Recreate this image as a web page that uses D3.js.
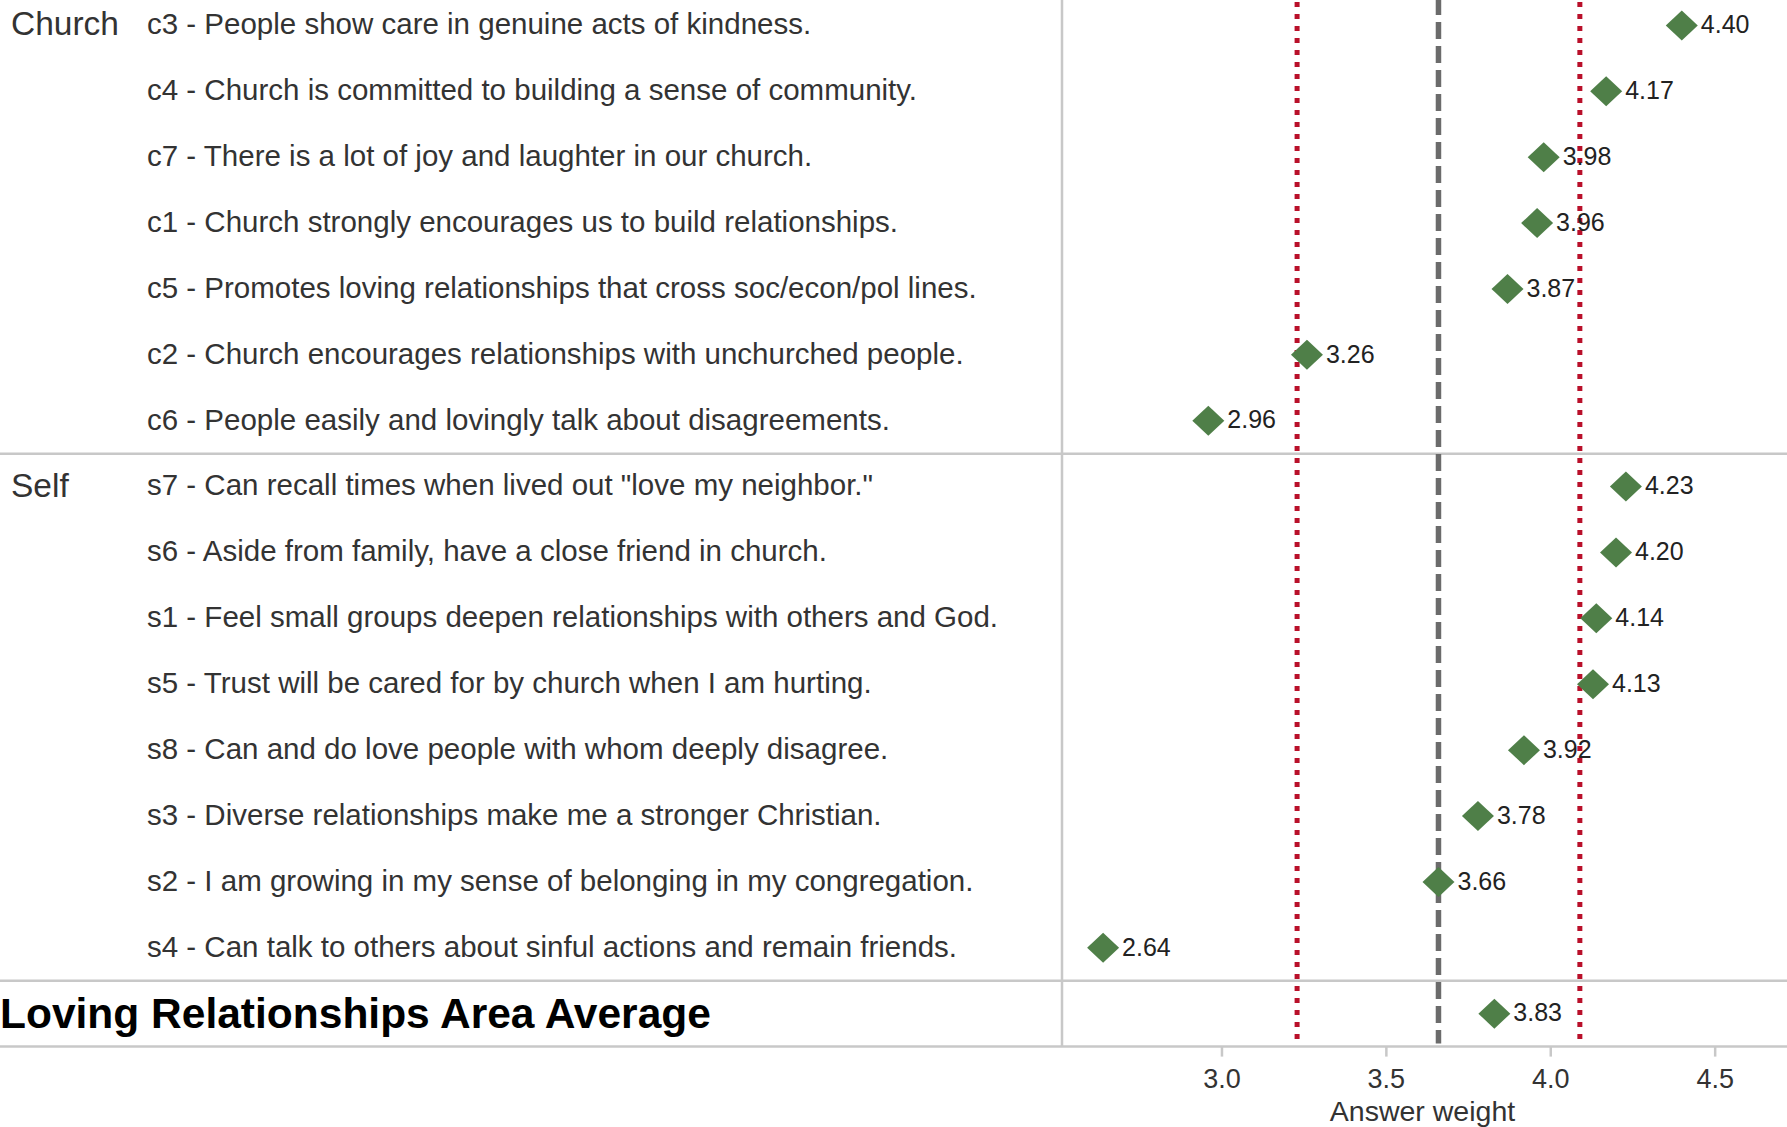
<!DOCTYPE html>
<html>
<head>
<meta charset="utf-8">
<script src="https://cdnjs.cloudflare.com/ajax/libs/d3/7.8.5/d3.min.js"></script>
<style>
  body { margin: 0; background: #fff; }
  svg { display: block; font-family: "Liberation Sans", Arial, sans-serif; }
</style>
</head>
<body>
<script>
var churchItems = [
	"c3 - People show care in genuine acts of kindness.",
	"c4 - Church is committed to building a sense of community.",
	"c7 - There is a lot of joy and laughter in our church.",
	"c1 - Church strongly encourages us to build relationships.",
	"c5 - Promotes loving relationships that cross soc/econ/pol lines.",
	"c2 - Church encourages relationships with unchurched people.",
	"c6 - People easily and lovingly talk about disagreements."
];
var churchValues = [4.40, 4.17, 3.98, 3.96, 3.87, 3.26, 2.96];

var selfItems = [
	"s7 - Can recall times when lived out \"love my neighbor.\"",
	"s6 - Aside from family, have a close friend in church.",
	"s1 - Feel small groups deepen relationships with others and God.",
	"s5 - Trust will be cared for by church when I am hurting.",
	"s8 - Can and do love people with whom deeply disagree.",
	"s3 - Diverse relationships make me a stronger Christian.",
	"s2 - I am growing in my sense of belonging in my congregation.",
	"s4 - Can talk to others about sinful actions and remain friends."
];
var selfValues = [4.23, 4.20, 4.14, 4.13, 3.92, 3.78, 3.66, 2.64];

var averageLabel = "Loving Relationships Area Average";
var averageValue = 3.83;

var refLower = 3.23;
var refMean = 3.66;
var refUpper = 4.09;

var tickValues = [3.0, 3.5, 4.0, 4.5];
var axisTitle = "Answer weight";

var w = 1787;
var h = 1127;
var paneLeft = 1062;
var bottomY = 1046.6;

// build rows
var rows = [];
churchItems.forEach(function(t, i) {
	rows.push({key: t, label: t, value: churchValues[i], group: "Church", first: i == 0});
});
selfItems.forEach(function(t, i) {
	rows.push({key: t, label: t, value: selfValues[i], group: "Self", first: i == 0});
});
rows.push({key: averageLabel, label: averageLabel, value: averageValue, group: "avg", first: true});

var svg = d3.select("body")
	.append("svg")
	.attr("width", w)
	.attr("height", h);

var x = d3.scaleLinear()
	.domain([2.515, 4.72])
	.range([paneLeft, w]);

var y = d3.scaleBand()
	.domain(rows.map(function(d) { return d.key; }))
	.range([-7.5, bottomY]);

var rowMid = function(d) { return y(d.key) + y.bandwidth() / 2; };

//grid lines
var gridColor = "#c8c8c8";
var seps = [churchItems[churchItems.length - 1], selfItems[selfItems.length - 1], averageLabel];
svg.selectAll("line.sep")
	.data(seps)
	.enter()
	.append("line")
	.attr("class", "sep")
	.attr("x1", 0)
	.attr("x2", w)
	.attr("y1", function(d) { return y(d) + y.bandwidth(); })
	.attr("y2", function(d) { return y(d) + y.bandwidth(); })
	.attr("stroke", gridColor)
	.attr("stroke-width", 2.5);

svg.append("line")
	.attr("x1", paneLeft)
	.attr("x2", paneLeft)
	.attr("y1", 0)
	.attr("y2", bottomY)
	.attr("stroke", gridColor)
	.attr("stroke-width", 2.5);

//reference lines
svg.selectAll("line.ref")
	.data([refLower, refUpper])
	.enter()
	.append("line")
	.attr("class", "ref")
	.attr("x1", function(d) { return x(d); })
	.attr("x2", function(d) { return x(d); })
	.attr("y1", 2)
	.attr("y2", bottomY - 3)
	.attr("stroke", "#b9102a")
	.attr("stroke-width", 5)
	.attr("stroke-dasharray", "5,7");

svg.append("line")
	.attr("x1", x(refMean))
	.attr("x2", x(refMean))
	.attr("y1", -2)
	.attr("y2", bottomY - 3)
	.attr("stroke", "#6b6b6b")
	.attr("stroke-width", 5.5)
	.attr("stroke-dasharray", "17,7");

//row labels
svg.selectAll("text.item")
	.data(rows.filter(function(d) { return d.group != "avg"; }))
	.enter()
	.append("text")
	.attr("class", "item")
	.attr("x", 147)
	.attr("y", rowMid)
	.attr("dy", "0.3em")
	.attr("fill", "#333")
	.style("font-size", "29.5px")
	.text(function(d) { return d.label; });

svg.selectAll("text.group")
	.data(rows.filter(function(d) { return d.first && d.group != "avg"; }))
	.enter()
	.append("text")
	.attr("class", "group")
	.attr("x", 11)
	.attr("y", rowMid)
	.attr("dy", "0.3em")
	.attr("fill", "#333")
	.style("font-size", "33.5px")
	.text(function(d) { return d.group; });

svg.append("text")
	.attr("x", 0)
	.attr("y", rowMid(rows[rows.length - 1]))
	.attr("dy", "0.33em")
	.attr("fill", "#000")
	.style("font-size", "42.5px")
	.style("font-weight", "bold")
	.text(averageLabel);

//diamonds
var dw = 16, dh = 15;
var pts = svg.selectAll("g.pt")
	.data(rows)
	.enter()
	.append("g")
	.attr("class", "pt")
	.attr("transform", function(d) { return "translate(" + x(d.value) + "," + rowMid(d) + ")"; });

pts.append("path")
	.attr("d", "M0," + (-dh) + "L" + dw + ",0L0," + dh + "L" + (-dw) + ",0Z")
	.attr("fill", "#4f7f48");

pts.append("text")
	.attr("x", dw + 3)
	.attr("y", -1)
	.attr("dy", "0.35em")
	.attr("fill", "#222")
	.style("font-size", "25px")
	.text(function(d) { return d.value.toFixed(2); });

//axis
var axis = svg.append("g")
	.attr("transform", "translate(0," + bottomY + ")")
	.call(d3.axisBottom(x)
		.tickValues(tickValues)
		.tickFormat(d3.format(".1f"))
		.tickSize(10)
		.tickPadding(12));
axis.select(".domain").remove();
axis.selectAll(".tick line").attr("stroke", gridColor).attr("stroke-width", 2.5);
axis.selectAll(".tick text")
	.attr("fill", "#333")
	.style("font-size", "27px")
	.style("font-family", "'Liberation Sans', Arial, sans-serif");

svg.append("text")
	.attr("x", (paneLeft + w) / 2 - 2)
	.attr("y", 1121)
	.attr("text-anchor", "middle")
	.attr("fill", "#333")
	.style("font-size", "28.5px")
	.text(axisTitle);
</script>
</body>
</html>
